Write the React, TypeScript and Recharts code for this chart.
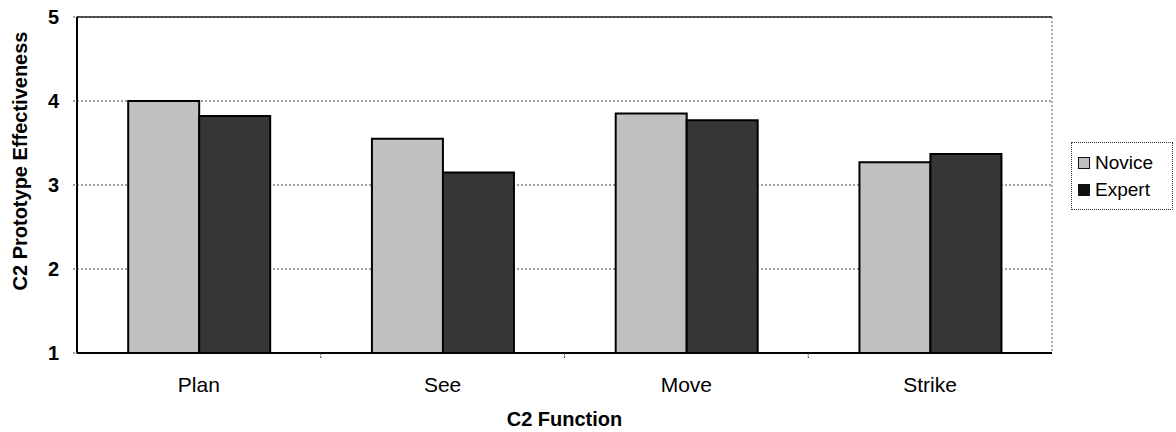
import React from 'react'
import {
  BarChart,
  Bar,
  XAxis,
  YAxis,
  CartesianGrid,
  ReferenceLine,
  Legend,
  Label,
} from 'recharts'

// ─── Data ─────────────────────────────────────────────────────────────────────

const CATEGORIES = ['Plan', 'See', 'Move', 'Strike']
const SERIES = ['Novice', 'Expert']
const NOVICE = [4.0, 3.55, 3.85, 3.27]
const EXPERT = [3.82, 3.15, 3.77, 3.37]
const Y_TICKS = [1, 2, 3, 4, 5]

const FONT = '"Liberation Sans", Arial, sans-serif'
const NOVICE_FILL = '#c0c0c0'
const EXPERT_FILL = '#363636'
const TICK_MARGIN = 24

const data = CATEGORIES.map((name, i) => ({
  name,
  Novice: NOVICE[i],
  Expert: EXPERT[i],
}))

// ─── Category tick: label + dotted mark at the right edge of the band ─────────

function CategoryTick({ x, y, payload, index }: any) {
  const axisY = y - TICK_MARGIN
  const edgeX = x + (payload?.offset ?? 0)
  const isLast = index === CATEGORIES.length - 1
  return (
    <g>
      {!isLast && (
        <line
          x1={edgeX}
          x2={edgeX}
          y1={axisY}
          y2={axisY + 6}
          stroke="#444"
          strokeDasharray="2 1"
        />
      )}
      <text
        x={x}
        y={y}
        dy="0.71em"
        textAnchor="middle"
        fontFamily={FONT}
        fontSize={21}
        fill="#000"
      >
        {payload.value}
      </text>
    </g>
  )
}

// ─── Legend ───────────────────────────────────────────────────────────────────

function BoxLegend({ payload }: { payload?: Array<{ value: string }> }) {
  const items = [...(payload ?? [])].sort(
    (a, b) => SERIES.indexOf(a.value) - SERIES.indexOf(b.value),
  )
  return (
    <div
      style={{
        border: '1px dotted #333',
        padding: '6px 4px 6px 6px',
        fontFamily: FONT,
        fontSize: 19,
        color: '#000',
        background: '#fff',
        boxSizing: 'border-box',
        width: 102,
      }}
    >
      {items.map(it => (
        <div key={it.value} style={{ display: 'flex', alignItems: 'center', height: 27 }}>
          <span
            style={{
              display: 'inline-block',
              width: 10,
              height: 10,
              marginRight: 5,
              border: '1px solid #111',
              background: it.value === 'Novice' ? NOVICE_FILL : '#111',
            }}
          />
          {it.value}
        </div>
      ))}
    </div>
  )
}

function YTitle({ viewBox }: any) {
  const cx = viewBox.x + 20
  const cy = viewBox.y + viewBox.height / 2 - 24
  return (
    <text
      x={cx}
      y={cy}
      transform={`rotate(-90, ${cx}, ${cy})`}
      textAnchor="middle"
      dominantBaseline="central"
      fontFamily={FONT}
      fontSize={20}
      fontWeight="bold"
      fill="#000"
    >
      C2 Prototype Effectiveness
    </text>
  )
}

// ─── Component ────────────────────────────────────────────────────────────────

export default function App() {
  return (
    <div style={{ position: 'absolute', left: 0, top: 0, background: '#fff' }}>
      <BarChart
        width={1176}
        height={432}
        data={data}
        margin={{ top: 17, right: 123, bottom: 3, left: 0 }}
        barCategoryGap="21%"
        barGap={0}
      >
        <CartesianGrid
          horizontal
          vertical={false}
          stroke="#444"
          strokeDasharray="2 2"
          strokeWidth={1}
        />
        <XAxis
          dataKey="name"
          height={76}
          axisLine={{ stroke: '#000', strokeWidth: 2 }}
          tickLine={false}
          tickSize={0}
          tickMargin={TICK_MARGIN}
          tick={<CategoryTick />}
        >
          <Label
            value="C2 Function"
            position="insideBottom"
            offset={3}
            style={{ fontFamily: FONT, fontSize: 20, fontWeight: 'bold', fill: '#000' }}
          />
        </XAxis>
        <YAxis
          domain={[1, 5]}
          ticks={Y_TICKS}
          width={77}
          axisLine={{ stroke: '#000', strokeWidth: 2 }}
          tickLine={{ stroke: '#444', strokeDasharray: '2 1' }}
          tickSize={4}
          tickMargin={14}
          tick={{ fontFamily: FONT, fontSize: 20, fontWeight: 'bold', fill: '#000' }}
        >
          <Label content={<YTitle />} />
        </YAxis>
        <YAxis
          yAxisId="right"
          orientation="right"
          domain={[1, 5]}
          width={1}
          tick={false}
          tickLine={false}
          axisLine={{ stroke: '#555', strokeDasharray: '2 2' }}
        />
        <ReferenceLine y={5} stroke="#222" strokeWidth={1.5} />
        <Legend
          layout="horizontal"
          align="center"
          verticalAlign="middle"
          content={<BoxLegend />}
          wrapperStyle={{ left: 1071, top: 142, width: 102 }}
        />
        <Bar
          dataKey="Novice"
          fill={NOVICE_FILL}
          stroke="#000"
          strokeWidth={2}
          isAnimationActive={false}
        />
        <Bar
          dataKey="Expert"
          fill={EXPERT_FILL}
          stroke="#000"
          strokeWidth={2}
          isAnimationActive={false}
        />
      </BarChart>
    </div>
  )
}
